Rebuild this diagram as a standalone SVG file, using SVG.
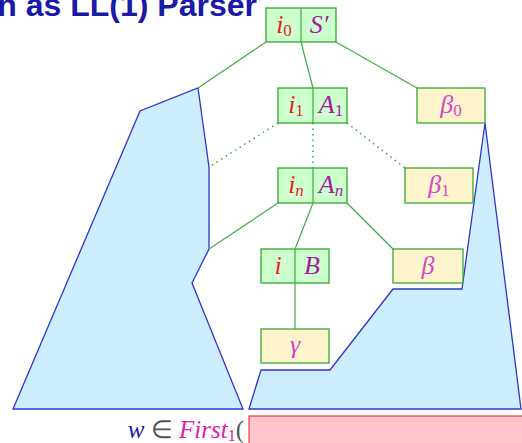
<svg xmlns="http://www.w3.org/2000/svg" width="522" height="443" viewBox="0 0 522 443">
  <style>
    .title { font-family: "Liberation Sans", Arial, sans-serif; font-weight: bold; font-size: 32px; fill: #1a1aa8; }
    .item { fill: #ccffcc; stroke: #33a833; stroke-width: 1.3; }
    .rest { fill: #fff5cc; stroke: #33a833; stroke-width: 1.3; }
    .edge { stroke: #44aa44; stroke-width: 1.2; fill: none; }
    .dot { stroke: #44aa44; stroke-width: 1.6; fill: none; stroke-dasharray: 1.5 4; }
    .tree { fill: #cceeff; stroke: #3333cc; stroke-width: 1.3; stroke-linejoin: miter; }
    .math { font-family: "Liberation Serif", "Times New Roman", serif; font-size: 26px; text-anchor: middle; }
    .idx { fill: #ee1a2a; font-style: italic; }
    .nt { fill: #a81aa8; font-style: italic; }
    .gr { fill: #d048c8; font-style: italic; }
    .sub { font-style: normal; font-size: 17px; }
    .subi { font-style: italic; font-size: 17px; }
  </style>

  <!-- heading -->
  <text class="title" x="257" y="16" text-anchor="end">n as LL(1) Parser</text>

  <!-- parse-tree silhouettes -->
  <g id="left-forest">
    <polygon class="tree" points="13,409 140,111 198,88 209,167 209,249 192,283 243,409"/>
  </g>
  <g id="right-forest">
    <polygon class="tree" points="249,409 261,370 330,370 393,289 462,289 485,123 521,409"/>
  </g>

  <!-- connectors -->
  <g id="connectors">
    <line class="edge" x1="266" y1="42" x2="198" y2="88"/>
    <line class="edge" x1="301" y1="42" x2="313" y2="88"/>
    <line class="edge" x1="336" y1="42" x2="417" y2="88"/>
    <line class="dot" x1="278" y1="123" x2="209" y2="167"/>
    <line class="dot" x1="313" y1="123" x2="313" y2="168"/>
    <line class="dot" x1="347" y1="123" x2="405" y2="168"/>
    <line class="edge" x1="278" y1="203" x2="209" y2="249"/>
    <line class="edge" x1="313" y1="203" x2="295" y2="249"/>
    <line class="edge" x1="347" y1="203" x2="393" y2="249"/>
    <line class="edge" x1="295" y1="283" x2="295" y2="329"/>
  </g>

  <!-- nodes -->
  <g id="n-i0">
    <rect class="item" x="266" y="8" width="70" height="34"/>
    <line class="edge" x1="301" y1="8" x2="301" y2="42"/>
    <text class="math" x="284" y="33"><tspan class="idx">i</tspan><tspan class="idx sub" dy="3">0</tspan></text>
    <text class="math" x="319" y="33"><tspan class="nt">S′</tspan></text>
  </g>
  <g id="n-i1">
    <rect class="item" x="278" y="88" width="69" height="35"/>
    <line class="edge" x1="313" y1="88" x2="313" y2="123"/>
    <text class="math" x="296" y="113"><tspan class="idx">i</tspan><tspan class="idx sub" dy="3">1</tspan></text>
    <text class="math" x="331" y="113"><tspan class="nt">A</tspan><tspan class="nt sub" dy="3">1</tspan></text>
  </g>
  <g id="n-beta0">
    <rect class="rest" x="417" y="88" width="68" height="35"/>
    <text class="math" x="451" y="113"><tspan class="gr">β</tspan><tspan class="gr sub" dy="3">0</tspan></text>
  </g>
  <g id="n-in">
    <rect class="item" x="278" y="168" width="69" height="35"/>
    <line class="edge" x1="313" y1="168" x2="313" y2="203"/>
    <text class="math" x="296" y="193"><tspan class="idx">i</tspan><tspan class="idx subi" dy="3">n</tspan></text>
    <text class="math" x="331" y="193"><tspan class="nt">A</tspan><tspan class="nt subi" dy="3">n</tspan></text>
  </g>
  <g id="n-beta1">
    <rect class="rest" x="405" y="168" width="68" height="35"/>
    <text class="math" x="439" y="193"><tspan class="gr">β</tspan><tspan class="gr sub" dy="3">1</tspan></text>
  </g>
  <g id="n-iB">
    <rect class="item" x="261" y="249" width="68" height="34"/>
    <line class="edge" x1="295" y1="249" x2="295" y2="283"/>
    <text class="math" x="278" y="274"><tspan class="idx">i</tspan></text>
    <text class="math" x="312" y="274"><tspan class="nt">B</tspan></text>
  </g>
  <g id="n-beta">
    <rect class="rest" x="393" y="249" width="70" height="34"/>
    <text class="math" x="428" y="274"><tspan class="gr">β</tspan></text>
  </g>
  <g id="n-gamma">
    <rect class="rest" x="261" y="329" width="68" height="34"/>
    <text class="math" x="295" y="353"><tspan class="gr">γ</tspan></text>
  </g>

  <!-- lookahead condition -->
  <g id="lookahead">
    <rect x="249" y="416" width="290" height="40" fill="#ffc4cc" stroke="#ee4a4a" stroke-width="1.3"/>
    <text x="244" y="438" text-anchor="end" font-family="'Liberation Serif', 'Times New Roman', serif" font-size="25"><tspan fill="#2020a8" font-style="italic">w</tspan><tspan fill="#555555"> ∈ </tspan><tspan fill="#e020b0" font-style="italic">First</tspan><tspan fill="#e020b0" font-size="16" dy="3">1</tspan><tspan fill="#555555" dy="-3">(</tspan></text>
  </g>
</svg>
